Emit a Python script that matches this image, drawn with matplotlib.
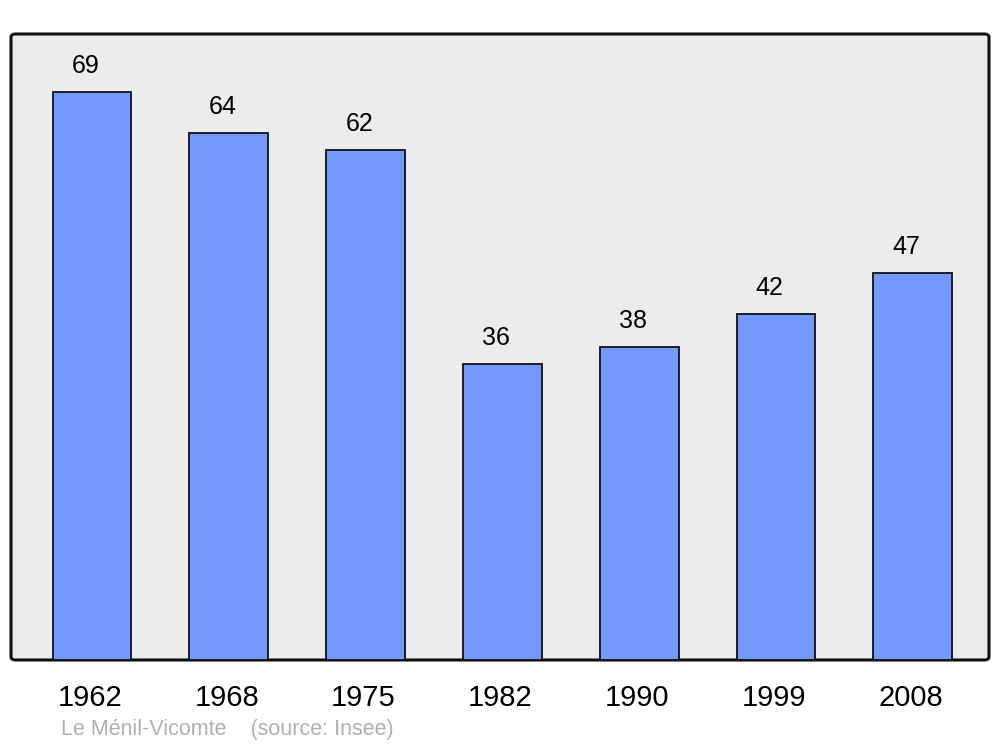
import matplotlib
matplotlib.use("Agg")
import matplotlib.pyplot as plt
from matplotlib.patches import FancyBboxPatch
from matplotlib.transforms import ScaledTranslation

years = ["1962", "1968", "1975", "1982", "1990", "1999", "2008"]
population = [69, 64, 62, 36, 38, 42, 47]
caption = "Le Ménil-Vicomte    (source: Insee)"

plt.rcParams['font.family'] = ['Liberation Sans', 'DejaVu Sans']

fig = plt.figure(figsize=(10, 7.47), dpi=100)
L, R, B, T = 0.011, 0.989, 1 - 660/747, 1 - 34/747
ax = fig.add_axes([L, B, R - L, T - B])
ax.set_facecolor('none')

frame = FancyBboxPatch((0, 0), 1, 1, boxstyle="round,pad=0,rounding_size=0.005",
                       transform=ax.transAxes, facecolor='#ececec', edgecolor='#111111',
                       linewidth=2.2, zorder=0, clip_on=False)
ax.add_patch(frame)

x = list(range(len(years)))
bars = ax.bar(x, population, width=0.575, color='#7399ff', edgecolor='#111111', linewidth=1.3, zorder=2)
for xi, v in zip(x, population):
    ax.annotate(str(v), (xi, v), xytext=(-4.5, 10), textcoords='offset points',
                ha='center', va='bottom', fontsize=18, color='black')

ax.set_xlim(-0.592, 6.557)
ax.set_ylim(0, 76.06)
for s in ax.spines.values():
    s.set_visible(False)
ax.set_yticks([])
ax.set_xticks(x)
ax.set_xticklabels(years, fontsize=21)
ax.tick_params(axis='x', length=0, pad=17)
shift = ScaledTranslation(-2/100, 0, fig.dpi_scale_trans)
for lbl in ax.get_xticklabels():
    lbl.set_transform(lbl.get_transform() + shift)

fig.text(0.061, 1 - 730/747, caption, fontsize=15.5, color='#b0b0b0', ha='left', va='center')

fig.savefig('out.png', dpi=100)
